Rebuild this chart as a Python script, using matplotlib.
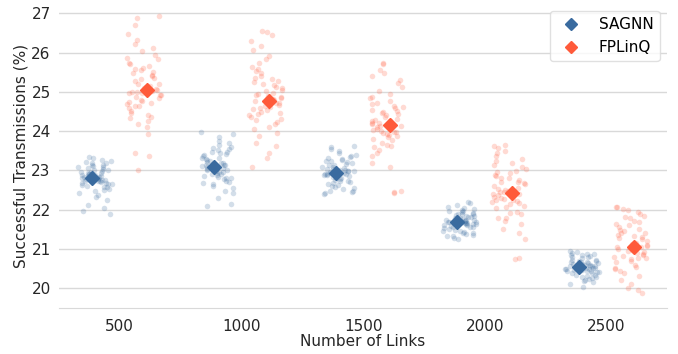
import numpy as np
import matplotlib
matplotlib.use("Agg")
import matplotlib.pyplot as plt
from matplotlib.lines import Line2D

links = ["500", "1000", "1500", "2000", "2500"]
models = ["SAGNN", "FPLinQ"]
colors = {"SAGNN": "#3a6b9f", "FPLinQ": "#ff5a3a"}

# means shown by the diamonds
sagnn_mean = [22.82, 23.10, 22.94, 21.70, 20.54]
fplinq_mean = [25.04, 24.78, 24.16, 22.43, 21.05]

# individual runs (estimated from the point clouds)
sagnn_500 = [22.95, 22.61, 23.18, 22.74, 22.88, 23.31, 22.47, 22.83, 23.05, 22.69,
             22.92, 22.33, 23.12, 22.79, 22.58, 23.24, 22.86, 22.71, 22.99, 22.12,
             23.08, 22.65, 22.90, 23.35, 22.54, 22.81, 23.02, 22.76, 22.42, 23.15,
             22.97, 22.63, 22.85, 21.88, 23.21, 22.73, 22.91, 22.50, 23.10, 22.78,
             22.26, 22.94, 23.27, 22.68, 22.87, 22.04, 23.00, 22.80, 22.57, 23.13,
             22.89, 21.97, 22.75, 23.06, 22.66, 22.93, 22.38, 23.19, 22.84, 22.72]
fplinq_500 = [25.12, 24.63, 25.48, 24.91, 25.87, 24.37, 25.05, 26.21, 24.75, 25.33,
              24.18, 25.61, 24.96, 26.93, 24.52, 25.21, 25.74, 24.84, 23.02, 25.40,
              24.69, 26.05, 25.16, 24.42, 25.93, 24.99, 25.55, 24.27, 26.48, 25.08,
              24.80, 25.27, 23.45, 25.66, 24.58, 26.70, 25.01, 24.88, 25.44, 24.10,
              25.83, 24.72, 26.32, 25.19, 24.47, 25.58, 23.92, 25.02, 26.87, 24.65,
              25.36, 24.93, 25.70, 24.33, 26.13, 25.10, 24.78, 23.38, 25.51, 24.98]
sagnn_1000 = [23.15, 22.82, 23.42, 22.97, 23.61, 23.08, 22.71, 23.29, 23.93, 22.90,
              23.20, 22.55, 23.48, 23.02, 23.11, 22.65, 23.36, 22.10, 23.05, 23.70,
              22.86, 23.25, 22.93, 23.55, 22.42, 23.13, 23.00, 23.84, 22.78, 23.33,
              23.18, 22.61, 23.44, 22.95, 23.07, 22.30, 23.66, 23.22, 22.88, 23.39,
              22.99, 23.52, 22.74, 23.12, 23.97, 22.84, 23.27, 22.48, 23.09, 23.58,
              22.15, 23.17, 22.92, 23.46, 23.03, 22.68, 23.31, 22.80, 23.76, 23.14]
fplinq_1000 = [24.85, 24.32, 25.21, 24.64, 25.58, 24.11, 24.92, 26.52, 24.47, 25.03,
               23.95, 25.36, 24.71, 26.08, 24.28, 24.98, 25.74, 24.56, 23.08, 25.12,
               24.40, 26.30, 24.88, 24.19, 25.47, 24.76, 25.29, 23.62, 26.45, 24.81,
               24.53, 25.06, 23.31, 25.63, 24.36, 25.92, 24.79, 24.62, 25.17, 23.88,
               25.41, 24.44, 26.18, 24.95, 24.23, 25.25, 23.71, 24.83, 26.54, 24.59,
               25.09, 24.67, 25.52, 24.05, 25.85, 24.90, 24.50, 23.45, 25.33, 24.73]
sagnn_1500 = [22.98, 22.71, 23.21, 22.85, 23.35, 22.93, 22.62, 23.10, 23.60, 22.80,
              23.04, 22.52, 23.27, 22.90, 22.96, 22.58, 23.16, 22.42, 22.88, 23.45,
              22.76, 23.07, 22.83, 23.31, 22.49, 22.97, 22.91, 23.55, 22.68, 23.13,
              23.01, 22.55, 23.24, 22.87, 22.94, 22.45, 23.40, 23.05, 22.79, 23.19,
              22.89, 23.29, 22.65, 22.99, 23.62, 22.74, 23.09, 22.40, 22.95, 23.37,
              22.47, 23.02, 22.82, 23.23, 22.92, 22.60, 23.14, 22.73, 23.50, 22.98]
fplinq_1500 = [24.22, 23.78, 24.55, 24.03, 24.88, 23.60, 24.30, 25.73, 23.92, 24.41,
               23.45, 24.68, 24.11, 25.30, 23.70, 24.36, 25.02, 23.97, 22.42, 24.48,
               23.85, 25.48, 24.26, 23.62, 24.77, 24.14, 24.62, 23.20, 25.72, 24.19,
               23.95, 24.44, 22.44, 24.95, 23.81, 25.22, 24.17, 24.00, 24.51, 23.36,
               24.73, 23.89, 25.40, 24.28, 23.66, 24.58, 23.10, 24.20, 25.55, 23.99,
               24.46, 24.06, 24.84, 23.52, 25.12, 24.25, 23.91, 22.49, 24.65, 24.13]
sagnn_2000 = [21.72, 21.51, 21.88, 21.63, 21.98, 21.69, 21.45, 21.80, 22.18, 21.60,
              21.76, 21.38, 21.93, 21.66, 21.70, 21.42, 21.84, 21.28, 21.65, 22.05,
              21.55, 21.78, 21.61, 21.95, 21.35, 21.71, 21.67, 22.12, 21.49, 21.82,
              21.74, 21.40, 21.90, 21.64, 21.69, 21.32, 22.01, 21.79, 21.57, 21.86,
              21.66, 21.96, 21.47, 21.73, 22.21, 21.53, 21.81, 21.25, 21.70, 22.00,
              21.34, 21.75, 21.59, 21.89, 21.68, 21.44, 21.83, 21.56, 22.08, 21.71]
fplinq_2000 = [22.48, 22.05, 22.80, 22.30, 23.10, 21.88, 22.55, 23.64, 22.18, 22.66,
               21.72, 22.93, 22.37, 23.38, 21.95, 22.60, 23.20, 22.24, 20.75, 22.71,
               22.10, 23.50, 22.50, 21.80, 22.98, 22.40, 22.85, 21.52, 23.62, 22.45,
               22.22, 22.68, 21.25, 23.15, 22.08, 23.30, 22.43, 22.27, 22.75, 21.65,
               22.95, 22.15, 23.45, 22.52, 21.92, 22.82, 21.40, 22.46, 23.56, 22.26,
               22.70, 22.33, 23.05, 21.78, 23.25, 22.49, 22.20, 20.76, 22.88, 22.39]
sagnn_2500 = [20.56, 20.38, 20.70, 20.48, 20.82, 20.53, 20.31, 20.64, 20.93, 20.45,
              20.60, 20.25, 20.76, 20.50, 20.55, 20.28, 20.67, 20.12, 20.49, 20.87,
              20.41, 20.62, 20.46, 20.79, 20.22, 20.55, 20.51, 20.90, 20.35, 20.66,
              20.58, 20.27, 20.73, 20.47, 20.53, 20.18, 20.84, 20.63, 20.42, 20.69,
              20.50, 20.80, 20.33, 20.57, 20.94, 20.40, 20.65, 20.04, 20.54, 20.85,
              20.15, 20.59, 20.44, 20.72, 20.52, 20.30, 20.68, 20.43, 20.88, 20.56]
fplinq_2500 = [21.08, 20.70, 21.40, 20.92, 21.68, 20.52, 21.15, 22.07, 20.80, 21.26,
               20.38, 21.52, 20.98, 21.90, 20.60, 21.20, 21.78, 20.85, 19.87, 21.32,
               20.74, 22.00, 21.10, 20.45, 21.60, 21.02, 21.45, 20.22, 22.08, 21.06,
               20.88, 21.30, 19.95, 21.72, 20.66, 21.85, 21.04, 20.90, 21.36, 20.32,
               21.56, 20.78, 21.95, 21.12, 20.55, 21.42, 20.10, 21.05, 22.02, 20.83,
               21.28, 20.96, 21.64, 20.48, 21.82, 21.11, 20.76, 20.00, 21.48, 21.00]

runs = {
    "SAGNN": [sagnn_500, sagnn_1000, sagnn_1500, sagnn_2000, sagnn_2500],
    "FPLinQ": [fplinq_500, fplinq_1000, fplinq_1500, fplinq_2000, fplinq_2500],
}
means = {"SAGNN": sagnn_mean, "FPLinQ": fplinq_mean}

plt.rcParams['font.family'] = ['DejaVu Sans']
fig = plt.figure(figsize=(6.78, 3.54), dpi=100)
ax = fig.add_axes([0.087, 0.13, 0.897, 0.86])

rng = np.random.default_rng(3)  # horizontal jitter only, like a strip plot
strip_off = {"SAGNN": -0.2, "FPLinQ": 0.2}
mean_off = {"SAGNN": -0.225, "FPLinQ": 0.225}
for m in models:
    for i, vals in enumerate(runs[m]):
        x = i + strip_off[m] + rng.uniform(-0.14, 0.14, len(vals))
        ax.scatter(x, vals, s=16, color=colors[m], alpha=0.22, linewidths=0, zorder=2)
    xs = np.arange(len(links)) + mean_off[m]
    ax.plot(xs, means[m], linestyle='none', marker='D', markersize=7.5,
            color=colors[m], zorder=4)

ax.set_xlim(-0.5, 4.5)
ax.set_ylim(19.5, 27.25)
ax.set_xticks(range(len(links)))
ax.set_xticklabels(links)
ax.set_yticks(range(20, 28))
ax.grid(axis='y', color='#d9d9d9', linewidth=1)
ax.set_axisbelow(True)
for s in ['top', 'right', 'left']:
    ax.spines[s].set_visible(False)
ax.spines['bottom'].set_color('#d9d9d9')
ax.tick_params(axis='both', length=0, labelsize=11, labelcolor='#262626')
ax.tick_params(axis='x', pad=8)
ax.tick_params(axis='y', pad=6)
ax.set_xlabel('Number of Links', fontsize=11, color='#262626', labelpad=0)
ax.set_ylabel('Successful Transmissions (%)', fontsize=11, color='#262626', labelpad=2)

handles = [Line2D([], [], linestyle='none', marker='D', markersize=6, color=colors[m])
           for m in models]
leg = ax.legend(handles, models, loc='upper right', fontsize=11, frameon=True)
leg.get_frame().set_edgecolor('#d9d9d9')

fig.savefig('out.png', dpi=100)
